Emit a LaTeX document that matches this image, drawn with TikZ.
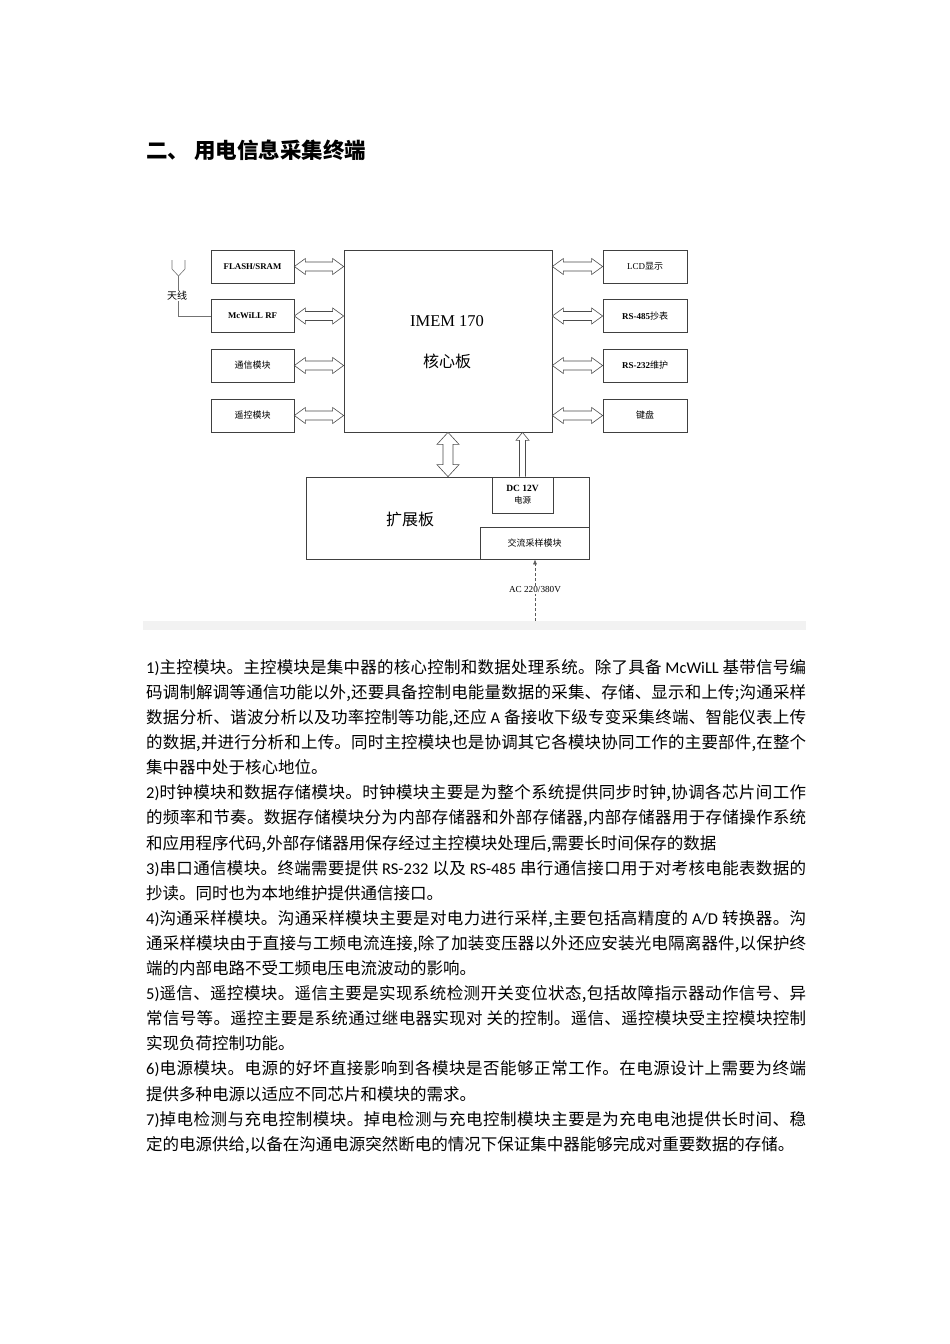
\documentclass[tikz,border=0pt]{standalone}
\usepackage{fontspec}
\setmainfont{Noto Sans CJK SC}
\newfontfamily\lat{Carlito}
\newfontfamily\ser{Liberation Serif}
\usetikzlibrary{calc,arrows.meta}
\newcount\cjkcnt
\cjkcnt="4E00
\loop \XeTeXcharclass\cjkcnt=1 \advance\cjkcnt by 1 \ifnum\cjkcnt<"A000 \repeat
\XeTeXcharclass"3001=3
\XeTeXcharclass"3002=3
\XeTeXinterchartokenstate=1
\def\cg{\hskip 0pt plus 3pt\relax}
\XeTeXinterchartoks 0 1 = {\cg}
\XeTeXinterchartoks 1 0 = {\cg}
\XeTeXinterchartoks 1 1 = {\cg}
\XeTeXinterchartoks 1 3 = {\cg}
\XeTeXinterchartoks 3 1 = {\cg}
\XeTeXinterchartoks 3 0 = {\cg}
\XeTeXinterchartoks 0 3 = {\cg}
\XeTeXinterchartoks 3 3 = {\cg}
\newcommand\en[1]{{\lat #1}}
\newcommand\jl[1]{\hbox to 660pt{#1}}
\newcommand\hdarr[2]{\draw[blk] let \p1=(#1), \p2=(#2) in
  (\x1,\y1) -- (\x1+11pt,\y1+8pt) -- (\x1+11pt,\y1+4.5pt) -- (\x2-11pt,\y1+4.5pt) -- (\x2-11pt,\y1+8pt) -- (\x2,\y1)
  -- (\x2-11pt,\y1-8pt) -- (\x2-11pt,\y1-4.5pt) -- (\x1+11pt,\y1-4.5pt) -- (\x1+11pt,\y1-8pt) -- cycle;}
\begin{document}
\begin{tikzpicture}[x=1pt,y=-1pt,
  box/.style={draw=black!75, line width=0.7pt, inner sep=0pt, align=center},
  blk/.style={draw=black!70, fill=white, line width=0.6pt},
  lab/.style={font=\fontsize{9}{11}\selectfont},
  body/.style={anchor=base west, inner sep=0pt, font=\fontsize{16.5}{20}\selectfont}]
\useasboundingbox[fill=white] (0,0) rectangle (950,1344);
% title
\node[anchor=base west, inner sep=0pt, font=\fontsize{21.5}{26}\selectfont\bfseries] (title) at (146,158) {二、 用电信息采集终端};
% left boxes
\node[box, minimum width=83pt, minimum height=33pt, font=\ser\bfseries\fontsize{8.8}{10}\selectfont] (flash) at (252.5,266.5) {FLASH/SRAM};
\node[box, minimum width=83pt, minimum height=33pt, font=\ser\bfseries\fontsize{8.8}{10}\selectfont] (mcwill) at (252.5,316) {McWiLL RF};
\node[box, lab, minimum width=83pt, minimum height=33pt] (tx) at (252.5,365.5) {通信模块};
\node[box, lab, minimum width=83pt, minimum height=33pt] (yk) at (252.5,415.5) {遥控模块};
% core
\node[box, minimum width=208pt, minimum height=182pt] (core) at (448,341) {};
\node[font=\ser\fontsize{16.5}{18}\selectfont, inner sep=0pt] (imem) at (447,321) {IMEM 170};
\node[font=\fontsize{16}{18}\selectfont, inner sep=0pt] (hxb) at (447,361) {核心板};
% right boxes
\node[box, lab, minimum width=84pt, minimum height=33pt] (lcd) at (645,266.5) {{\ser LCD}显示};
\node[box, lab, minimum width=84pt, minimum height=33pt] (r485) at (645,316) {{\ser\bfseries RS-485}抄表};
\node[box, lab, minimum width=84pt, minimum height=33pt] (r232) at (645,365.5) {{\ser\bfseries RS-232}维护};
\node[box, lab, minimum width=84pt, minimum height=33pt] (kb) at (645,415.5) {键盘};
% expansion board
\node[box, minimum width=283pt, minimum height=82pt] (ext) at (447.5,518) {};
\node[font=\fontsize{16}{18}\selectfont, inner sep=0pt] (kzb) at (410,519) {扩展板};
\node[box, minimum width=61pt, minimum height=36pt, font=\fontsize{8.5}{12}\selectfont] (dc) at (522.5,495) {{\ser\bfseries\fontsize{9.5}{12}\selectfont DC 12V}\\电源};
\node[box, lab, minimum width=109pt, minimum height=32pt] (ac) at (534.5,543) {交流采样模块};
% horizontal double arrows
\hdarr{flash.east}{core.west |- flash.east}
\hdarr{mcwill.east}{core.west |- mcwill.east}
\hdarr{tx.east}{core.west |- tx.east}
\hdarr{yk.east}{core.west |- yk.east}
\hdarr{core.east |- lcd.west}{lcd.west}
\hdarr{core.east |- r485.west}{r485.west}
\hdarr{core.east |- r232.west}{r232.west}
\hdarr{core.east |- kb.west}{kb.west}
% vertical double arrow core <-> ext
\draw[blk] let \p1=(core.south), \p2=(core.south |- ext.north) in
  (\x1,\y1) -- (\x1+11pt,\y1-12pt) -- (\x1+5pt,\y1-12pt) -- (\x1+5pt,\y2+12pt) -- (\x1+11pt,\y2+12pt) -- (\x1,\y2)
  -- (\x1-11pt,\y2+12pt) -- (\x1-5pt,\y2+12pt) -- (\x1-5pt,\y1-12pt) -- (\x1-11pt,\y1-12pt) -- cycle;
% single up arrow dc -> core
\draw[blk] let \p1=(dc.north), \p2=(dc.north |- core.south) in
  (\x1-3pt,\y1) -- (\x1-3pt,\y2-8pt) -- (\x1-6.5pt,\y2-8pt) -- (\x2,\y2) -- (\x1+6.5pt,\y2-8pt) -- (\x1+3pt,\y2-8pt) -- (\x1+3pt,\y1);
% antenna
\coordinate (ant) at (178.5,276);
\draw[black!55, line width=0.6pt] (172,260) -- (172,269) -- (ant) -- (185,269) -- (185,260);
\draw[black!55, line width=0.6pt] (ant) |- (mcwill.west);
\node[font=\fontsize{10}{12}\selectfont, fill=white, inner sep=0.5pt] (tianxian) at (177,296) {天线};
% AC input
\coordinate (acin) at (535,621);
\draw[black!65, line width=0.6pt, densely dashed, -{Latex[length=5pt,width=4pt]}] (acin) -- (acin |- ac.south);
\node[font=\ser\fontsize{9.2}{11}\selectfont, fill=white, inner sep=1pt] (aclab) at (535,590) {AC 220/380V};
% gray band
\fill[black!5] (143,621) rectangle (806,630);
% body text
\node[body] (l1) at (146,673.3) {\jl{\en{1)}主控模块。主控模块是集中器的核心控制和数据处理系统。除了具备 \en{McWiLL} 基带信号编}};
\node[body] (l2) at (146,698.4) {\jl{码调制解调等通信功能以外,还要具备控制电能量数据的采集、存储、显示和上传;沟通采样}};
\node[body] (l3) at (146,723.5) {\jl{数据分析、谐波分析以及功率控制等功能,还应 \en{A} 备接收下级专变采集终端、智能仪表上传}};
\node[body] (l4) at (146,748.6) {\jl{的数据,并进行分析和上传。同时主控模块也是协调其它各模块协同工作的主要部件,在整个}};
\node[body] (l5) at (146,773.7) {集中器中处于核心地位。};
\node[body] (l6) at (146,798.8) {\jl{\en{2)}时钟模块和数据存储模块。时钟模块主要是为整个系统提供同步时钟,协调各芯片间工作}};
\node[body] (l7) at (146,823.9) {\jl{的频率和节奏。数据存储模块分为内部存储器和外部存储器,内部存储器用于存储操作系统}};
\node[body] (l8) at (146,849.0) {和应用程序代码,外部存储器用保存经过主控模块处理后,需要长时间保存的数据};
\node[body] (l9) at (146,874.1) {\jl{\en{3)}串口通信模块。终端需要提供 \en{RS-232} 以及 \en{RS-485} 串行通信接口用于对考核电能表数据的}};
\node[body] (l10) at (146,899.2) {抄读。同时也为本地维护提供通信接口。};
\node[body] (l11) at (146,924.3) {\jl{\en{4)}沟通采样模块。沟通采样模块主要是对电力进行采样,主要包括高精度的 \en{A/D} 转换器。沟}};
\node[body] (l12) at (146,949.4) {\jl{通采样模块由于直接与工频电流连接,除了加装变压器以外还应安装光电隔离器件,以保护终}};
\node[body] (l13) at (146,974.5) {端的内部电路不受工频电压电流波动的影响。};
\node[body] (l14) at (146,999.6) {\jl{\en{5)}遥信、遥控模块。遥信主要是实现系统检测开关变位状态,包括故障指示器动作信号、异}};
\node[body] (l15) at (146,1024.7) {\jl{常信号等。遥控主要是系统通过继电器实现对 关的控制。遥信、遥控模块受主控模块控制}};
\node[body] (l16) at (146,1049.8) {实现负荷控制功能。};
\node[body] (l17) at (146,1074.9) {\jl{\en{6)}电源模块。电源的好坏直接影响到各模块是否能够正常工作。在电源设计上需要为终端}};
\node[body] (l18) at (146,1100.0) {提供多种电源以适应不同芯片和模块的需求。};
\node[body] (l19) at (146,1125.1) {\jl{\en{7)}掉电检测与充电控制模块。掉电检测与充电控制模块主要是为充电电池提供长时间、稳}};
\node[body] (l20) at (146,1150.2) {定的电源供给,以备在沟通电源突然断电的情况下保证集中器能够完成对重要数据的存储。};
\end{tikzpicture}
\end{document}
